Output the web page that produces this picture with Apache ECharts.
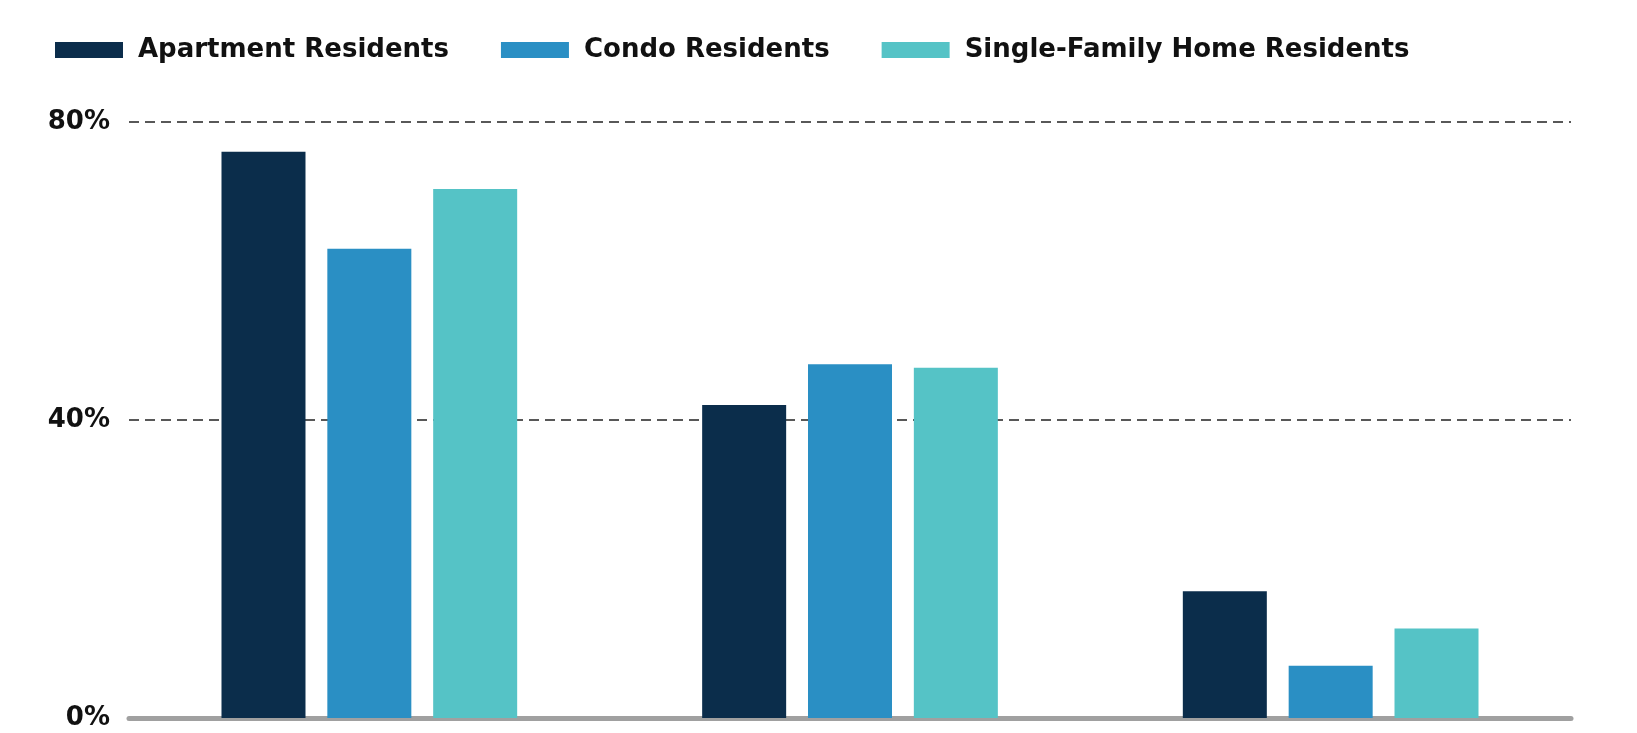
<!DOCTYPE html>
<html>
<head>
<meta charset="utf-8">
<script src="https://cdn.jsdelivr.net/npm/echarts@6/dist/echarts.min.js"></script>
<style>
html,body{margin:0;padding:0;background:#fff;}
#chart{width:1637px;height:733px;}
</style>
</head>
<body>
<div id="chart"></div>
<script>
var categories = ['Group 1', 'Group 2', 'Group 3'];
var seriesNames = ['Apartment Residents', 'Condo Residents', 'Single-Family Home Residents'];
var apartment = [76, 42, 17];
var condo = [63, 47.5, 7];
var singleFamily = [71, 47, 12];
var yTicks = [0, 40, 80];
var colors = ['#0b2d4b', '#2a8fc4', '#55c3c6'];

var chart = echarts.init(document.getElementById('chart'));
var dataSets = [apartment, condo, singleFamily];
var series = dataSets.map(function (d, i) {
  return {
    name: seriesNames[i],
    type: 'bar',
    data: d,
    barWidth: 84,
    barGap: '26%',
    itemStyle: { color: colors[i] },
    z: 1
  };
});

var font = 'DejaVu Sans';
chart.setOption({
  animation: false,
  legend: {
    left: 50,
    top: 32,
    itemWidth: 68,
    itemHeight: 16,
    itemGap: 52,
    icon: 'rect',
    textStyle: { fontFamily: font, fontWeight: 'bold', fontSize: 26, color: '#111', padding: [0, 0, 0, 10] },
    data: seriesNames
  },
  grid: { left: 129, right: 66, top: 122, bottom: 15, containLabel: false },
  xAxis: {
    type: 'category',
    data: categories,
    axisLine: { show: true, lineStyle: { color: '#a0a0a0', width: 5 } },
    axisTick: { show: false },
    axisLabel: { show: false }
  },
  yAxis: {
    type: 'value',
    min: yTicks[0],
    max: yTicks[yTicks.length - 1],
    interval: yTicks[1] - yTicks[0],
    axisLine: { show: false },
    axisTick: { show: false },
    axisLabel: {
      margin: 19,
      fontFamily: font, fontWeight: 'bold', fontSize: 26, color: '#111',
      formatter: function (v) { return v + '%'; }
    },
    splitLine: {
      show: true,
      lineStyle: { color: '#222', width: 1.5, type: [10, 6] },
      showMinLine: false
    }
  },
  series: series
});
</script>
</body>
</html>
